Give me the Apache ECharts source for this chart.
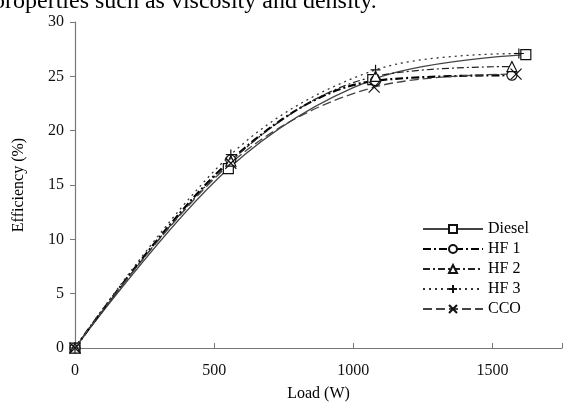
<!DOCTYPE html>
<html><head><meta charset="utf-8">
<script src="https://cdn.jsdelivr.net/npm/echarts@6/dist/echarts.min.js"></script>
<style>html,body{margin:0;padding:0;background:#fff;}#c{width:565px;height:407px;}</style>
</head><body><div id="c"></div>
<script>
var seriesNames = ['Diesel', 'HF 1', 'HF 2', 'HF 3', 'CCO'];
var dieselLoad = [0, 551, 1070, 1620];
var dieselEff  = [0, 16.5, 24.7, 27.0];
var hf1Load = [0, 560, 1080, 1570];
var hf1Eff  = [0, 17.3, 24.6, 25.1];
var hf2Load = [0, 560, 1080, 1570];
var hf2Eff  = [0, 17.2, 25.0, 25.9];
var hf3Load = [0, 560, 1080, 1595];
var hf3Eff  = [0, 17.8, 25.6, 27.1];
var ccoLoad = [0, 560, 1075, 1585];
var ccoEff  = [0, 17.0, 24.0, 25.2];
var xTicks = [0, 500, 1000, 1500];
var yTicks = [0, 5, 10, 15, 20, 25, 30];
var headerText = 'properties such as viscosity and density.';

function pairs(xs, ys) { return xs.map(function (x, i) { return [x, ys[i]]; }); }
var FONT = '"Liberation Serif", "DejaVu Serif", serif';
var plusPath = 'path://M0,5L10,5M5,0L5,10';
var crossPath = 'path://M0,0L10,10M10,0L0,10';

var chart = echarts.init(document.getElementById('c'));
function mk(name, xs, ys, color, width, dash, symbol, size) {
  return {
    name: name, type: 'line', smooth: 0.35,
    data: pairs(xs, ys),
    symbol: symbol, symbolSize: size,
    lineStyle: { color: color, width: width, type: dash },
    itemStyle: { color: '#fff', borderColor: '#111', borderWidth: 1.2 },
    emphasis: { disabled: true }
  };
}
chart.setOption({
  animation: false,
  textStyle: { fontFamily: FONT },
  graphic: [{
    type: 'text', left: -7, top: -10,
    style: { text: headerText, font: '24px ' + FONT, fill: '#000' }
  }],
  grid: { left: 75, top: 22, bottom: 59, right: -2 },
  legend: {
    orient: 'vertical', left: 417, top: 216,
    itemWidth: 60, itemHeight: 10, itemGap: 4,
    textStyle: { fontFamily: FONT, fontSize: 16, color: '#000' },
    data: seriesNames
  },
  xAxis: {
    type: 'value', min: 0, max: 1750, interval: 500,
    name: 'Load (W)', nameLocation: 'middle', nameGap: 38,
    nameTextStyle: { fontFamily: FONT, fontSize: 16, color: '#000' },
    axisLine: { lineStyle: { color: '#777', width: 1.2 } },
    axisTick: { inside: true, length: 5, lineStyle: { color: '#777' } },
    axisLabel: { fontFamily: FONT, fontSize: 16, color: '#111', margin: 15,
      formatter: function (v) { return xTicks.indexOf(v) >= 0 ? String(v) : ''; } },
    splitLine: { show: false }
  },
  yAxis: {
    type: 'value', min: 0, max: 30, interval: 5,
    name: 'Efficiency (%)', nameLocation: 'middle', nameGap: 48,
    nameTextStyle: { fontFamily: FONT, fontSize: 16, color: '#000' },
    axisLine: { show: true, lineStyle: { color: '#777', width: 1.2 } },
    axisTick: { show: true, inside: false, length: 5, lineStyle: { color: '#777' } },
    axisLabel: { fontFamily: FONT, fontSize: 16, color: '#111', margin: 11,
      formatter: function (v) { return yTicks.indexOf(v) >= 0 ? String(v) : ''; } },
    splitLine: { show: false }
  },
  series: [
    mk('Diesel', dieselLoad, dieselEff, '#444', 1.3, 'solid', 'rect', 10),
    mk('HF 1', hf1Load, hf1Eff, '#000', 2.2, [8, 3, 2, 3], 'circle', 10),
    mk('HF 2', hf2Load, hf2Eff, '#222', 1.2, [7, 3, 2, 3], 'triangle', 10),
    mk('HF 3', hf3Load, hf3Eff, '#333', 1.3, [2, 4], plusPath, 10),
    mk('CCO', ccoLoad, ccoEff, '#444', 1.3, [9, 4], crossPath, 11)
  ]
});
</script></body></html>
